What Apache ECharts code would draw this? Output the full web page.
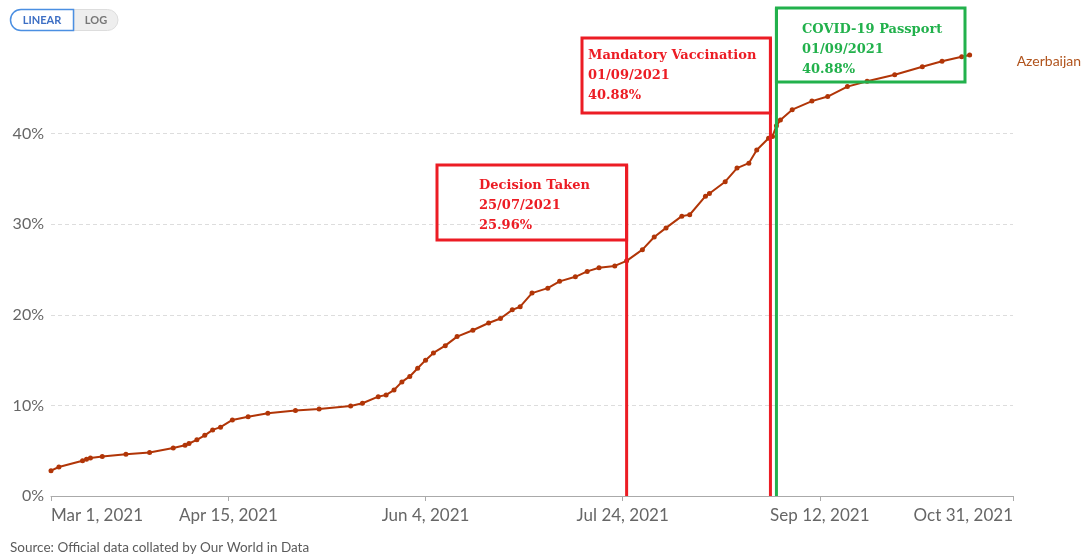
<!DOCTYPE html>
<html>
<head>
<meta charset="utf-8">
<script src="https://cdn.jsdelivr.net/npm/echarts@6/dist/echarts.min.js"></script>
<style>
  html, body { margin: 0; padding: 0; background: #fff; }
  #chart { width: 1088px; height: 558px; }
</style>
</head>
<body>
<div id="chart"></div>
<script>
// share of people fully vaccinated, Azerbaijan
var dates = [
  '2021-03-01', '2021-03-03', '2021-03-09', '2021-03-10', '2021-03-11', '2021-03-14', '2021-03-20', '2021-03-26',
  '2021-04-01', '2021-04-04', '2021-04-05', '2021-04-07', '2021-04-09', '2021-04-11', '2021-04-13', '2021-04-16',
  '2021-04-20', '2021-04-25', '2021-05-02', '2021-05-08', '2021-05-16', '2021-05-19', '2021-05-23', '2021-05-25',
  '2021-05-27', '2021-05-29', '2021-05-31', '2021-06-02', '2021-06-04', '2021-06-06', '2021-06-09', '2021-06-12',
  '2021-06-16', '2021-06-20', '2021-06-23', '2021-06-26', '2021-06-28', '2021-07-01', '2021-07-05', '2021-07-08',
  '2021-07-12', '2021-07-15', '2021-07-18', '2021-07-22', '2021-07-25', '2021-07-29', '2021-08-01', '2021-08-04',
  '2021-08-08', '2021-08-10', '2021-08-14', '2021-08-15', '2021-08-19', '2021-08-22', '2021-08-25', '2021-08-27',
  '2021-08-30', '2021-08-31', '2021-09-01', '2021-09-02', '2021-09-05', '2021-09-10', '2021-09-14', '2021-09-19',
  '2021-09-24', '2021-10-01', '2021-10-08', '2021-10-13', '2021-10-18', '2021-10-20'
];
var shares = [
  2.8, 3.2, 3.9, 4.05, 4.2, 4.35, 4.6, 4.8,
  5.3, 5.6, 5.8, 6.2, 6.7, 7.3, 7.6, 8.4,
  8.76, 9.14, 9.43, 9.6, 9.94, 10.24, 10.97, 11.16,
  11.7, 12.6, 13.2, 14.1, 15.0, 15.8, 16.6, 17.6,
  18.3, 19.1, 19.6, 20.55, 20.9, 22.4, 22.95, 23.7,
  24.2, 24.8, 25.2, 25.4, 25.96, 27.2, 28.6, 29.6,
  30.9, 31.05, 33.1, 33.4, 34.7, 36.2, 36.75, 38.2,
  39.5, 39.7, 40.88, 41.5, 42.65, 43.6, 44.1, 45.2,
  45.8, 46.5, 47.4, 48.0, 48.5, 48.7
];
var seriesName = 'Azerbaijan';

var tickDates = ['2021-03-01', '2021-04-15', '2021-06-04', '2021-07-24', '2021-09-12', '2021-10-31'];
var tickLabels = ['Mar 1, 2021', 'Apr 15, 2021', 'Jun 4, 2021', 'Jul 24, 2021', 'Sep 12, 2021', 'Oct 31, 2021'];

// annotations
var noteTitles = ['Decision Taken', 'Mandatory Vaccination', 'COVID-19 Passport'];
var noteDates = ['25/07/2021', '01/09/2021', '01/09/2021'];
var noteValues = ['25.96%', '40.88%', '40.88%'];
var noteAt = ['2021-07-25', '2021-09-01', '2021-09-01'];

function ts(s) {
  var p = s.split('-');
  return Date.UTC(+p[0], +p[1] - 1, +p[2]);
}

var tickTs = tickDates.map(ts);
var points = dates.map(function (d, i) { return [ts(d), shares[i]]; });

var chart = echarts.init(document.getElementById('chart'));
var font = 'Lato';
var red = '#ec1c24';
var green = '#22b14c';

chart.setOption({
  animation: false,
  grid: { left: 51, right: 75, top: 54, bottom: 62 },
  xAxis: {
    type: 'value',
    min: tickTs[0],
    max: tickTs[tickTs.length - 1],
    axisLine: { lineStyle: { color: '#aaa', width: 1 } },
    axisTick: { show: true, length: 5, customValues: tickTs, lineStyle: { color: '#aaa' } },
    splitLine: { show: false },
    axisLabel: {
      customValues: tickTs,
      margin: 11,
      color: '#666',
      fontFamily: font,
      fontSize: 17,
      alignMinLabel: 'left',
      alignMaxLabel: 'right',
      formatter: function (v) {
        var i = tickTs.indexOf(v);
        return i >= 0 ? tickLabels[i] : '';
      }
    }
  },
  yAxis: {
    type: 'value',
    min: 0,
    max: 48.8,
    interval: 10,
    axisLine: { show: false },
    axisTick: { show: false },
    splitLine: {
      show: true,
      showMinLine: false,
      showMaxLine: false,
      lineStyle: { color: '#ddd', type: [4, 3] }
    },
    axisLabel: {
      margin: 7,
      color: '#666',
      fontFamily: font,
      fontSize: 16,
      formatter: function (v) { return v % 10 === 0 ? v + '%' : ''; }
    }
  },
  series: [{
    name: seriesName,
    type: 'line',
    data: points,
    symbol: 'circle',
    symbolSize: 5,
    showSymbol: true,
    itemStyle: { color: '#b13507' },
    lineStyle: { color: '#b13507', width: 2 },
    endLabel: {
      show: true,
      formatter: seriesName,
      color: '#b0531c',
      fontFamily: font,
      fontSize: 14,
      distance: 47,
      offset: [0, 7]
    }
  }]
});

// annotation boxes and marker lines, placed from the axis
var xDecision = chart.convertToPixel({ xAxisIndex: 0 }, ts(noteAt[0]));
var xPass = chart.convertToPixel({ xAxisIndex: 0 }, ts(noteAt[2]));
var xMand = xPass - 6;
var yBase = chart.convertToPixel({ yAxisIndex: 0 }, 0);
var noteFont = 'bold 13px "DejaVu Serif"';

function box(x1, y1, x2, y2, color) {
  return { type: 'rect', z: 100, shape: { x: x1, y: y1, width: x2 - x1, height: y2 - y1 },
    style: { fill: null, stroke: color, lineWidth: 3 } };
}
function vline(x, y1, color) {
  return { type: 'line', z: 100, shape: { x1: x, y1: y1, x2: x, y2: yBase },
    style: { stroke: color, lineWidth: 3 } };
}
function note(i, x, y, color) {
  return { type: 'text', z: 101, x: x, y: y,
    style: { text: noteTitles[i] + '\n' + noteDates[i] + '\n' + noteValues[i],
      font: noteFont, fill: color, lineHeight: 20, verticalAlign: 'top' } };
}

chart.setOption({
  graphic: [
    box(437, 165, xDecision, 240, red),
    vline(xDecision, 165, red),
    note(0, 479, 176, red),
    box(582, 38, xMand, 113, red),
    vline(xMand, 38, red),
    note(1, 588, 46, red),
    box(xPass, 8, 965, 82, green),
    vline(xPass, 8, green),
    note(2, 802, 20, green),
    // scale toggle
    { type: 'rect', shape: { x: 74, y: 9.5, width: 44, height: 21, r: [0, 10.5, 10.5, 0] },
      style: { fill: '#eeeeee', stroke: '#dddddd', lineWidth: 1 } },
    { type: 'rect', shape: { x: 10.5, y: 9.5, width: 63, height: 21, r: [10.5, 0, 0, 10.5] },
      style: { fill: '#fff', stroke: '#4b8fe2', lineWidth: 1.5 } },
    { type: 'text', x: 42, y: 20, style: { text: 'LINEAR', font: 'bold 11px Lato', fill: '#3d6fc4', align: 'center', verticalAlign: 'middle' } },
    { type: 'text', x: 96, y: 20, style: { text: 'LOG', font: 'bold 11px Lato', fill: '#777', align: 'center', verticalAlign: 'middle' } },
    { type: 'text', x: 10, y: 548, style: { text: 'Source: Official data collated by Our World in Data', font: '13.5px Lato', fill: '#5b5b5b', verticalAlign: 'middle' } }
  ]
});
</script>
</body>
</html>
